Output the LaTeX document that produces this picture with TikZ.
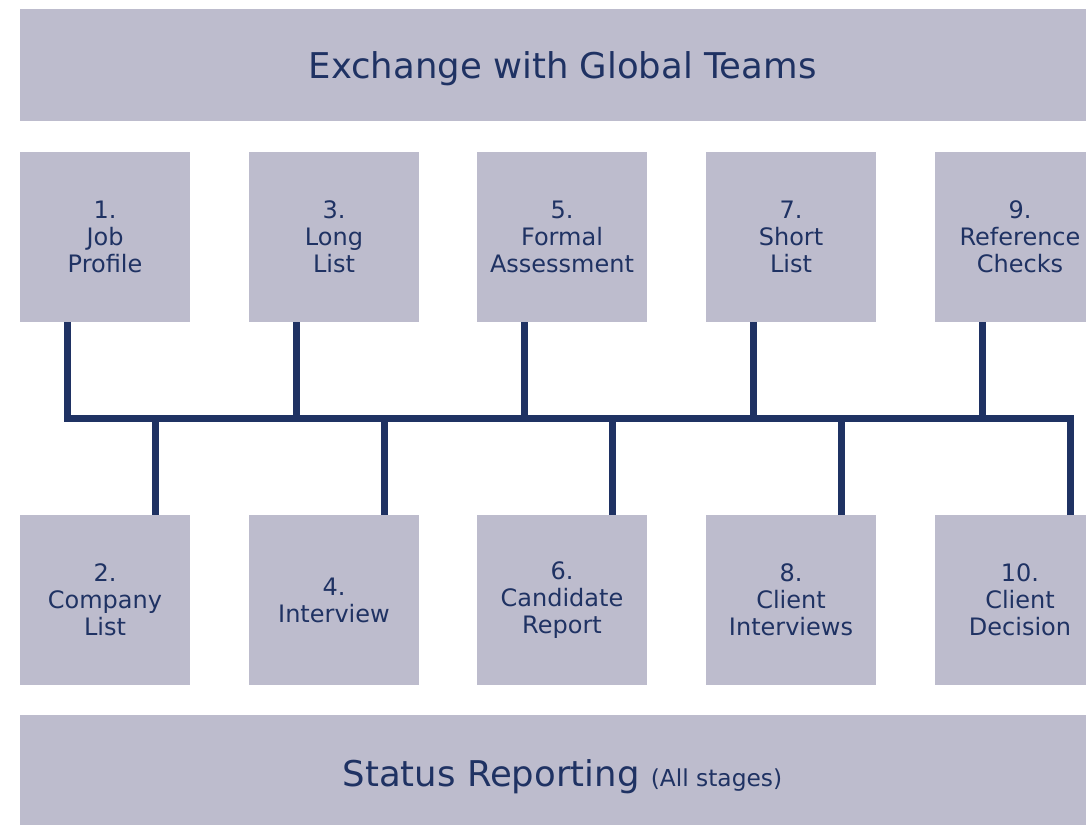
\documentclass[tikz,border=0pt]{standalone}
\usepackage{fontspec}
\setmainfont{DejaVu Sans}
\definecolor{boxfill}{HTML}{BDBCCD}
\definecolor{navy}{HTML}{1F3263}
\tikzset{
  stage/.style={fill=boxfill, text=navy, minimum width=127.5pt, minimum height=127.5pt,
    inner sep=0pt, align=center, font=\fontsize{18}{20.25}\selectfont},
  banner/.style={fill=boxfill, text=navy, minimum width=813.75pt, inner sep=0pt,
    text depth=0pt, font=\fontsize{26.6}{30}\selectfont},
  bus/.style={draw=navy, line width=5.25pt}
}
\begin{document}
\begin{tikzpicture}[x=0.75pt,y=0.75pt,yscale=-1,xscale=1]
\useasboundingbox (0,0) rectangle (1086,825);
\clip (0,0) rectangle (1086,825);
% banners
\node[banner, minimum height=84pt] (teams) at (562.5,65) {Exchange with Global Teams};
\node[banner, minimum height=87pt] (status) at (562.5,773)
  {Status Reporting {\fontsize{17.5}{20}\selectfont (All stages)}};
% stages, upper row
\node[stage] (s1) at (105,237) {1.\\Job\\Profile};
\node[stage] (s3) at (334,237) {3.\\Long\\List};
\node[stage] (s5) at (562,237) {5.\\Formal\\Assessment};
\node[stage] (s7) at (791,237) {7.\\Short\\List};
\node[stage] (s9) at (1020,237) {9.\\Reference\\Checks};
% stages, lower row
\node[stage] (s2) at (105,600) {2.\\Company\\List};
\node[stage] (s4) at (334,600) {4.\\Interview};
\node[stage] (s6) at (562,600) {6.\\Candidate\\Report};
\node[stage] (s8) at (791,600) {8.\\Client\\Interviews};
\node[stage] (s10) at (1020,600) {10.\\Client\\Decision};
% connectors
\coordinate (bus) at (0,418);
\foreach \i in {1,3,5,7,9}
  \coordinate (t\i) at ([xshift=-28.5pt]s\i.south);
\foreach \i in {2,4,6,8,10}
  \coordinate (b\i) at ([xshift=37.5pt]s\i.north);
\draw[bus] (t1) -- (t1 |- bus) -- (b10 |- bus) -- (b10);
\foreach \i in {3,5,7,9}
  \draw[bus] (t\i) -- (t\i |- bus);
\foreach \i in {2,4,6,8}
  \draw[bus] (b\i) -- (b\i |- bus);
\end{tikzpicture}
\end{document}
